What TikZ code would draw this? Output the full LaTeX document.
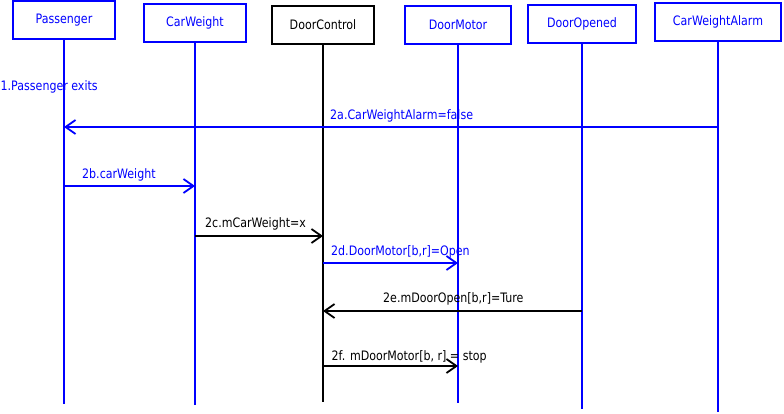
\documentclass[tikz,border=0pt]{standalone}
\usepackage{fontspec}
\setmainfont{DejaVu Sans}[FakeStretch=0.85]
\usetikzlibrary{arrows.meta}
\definecolor{lblue}{RGB}{0,0,255}
\begin{document}
\begin{tikzpicture}[x=1pt,y=-1pt,
  obj/.style={draw,line width=2pt,inner sep=0pt,font=\fontsize{13}{15}\selectfont},
  bobj/.style={obj,draw=lblue,text=lblue},
  kobj/.style={obj,draw=black,text=black},
  life/.style={line width=2pt},
  msg/.style={line width=2pt,-{Straight Barb[length=10pt,width=14pt,line width=1.8pt]}},
  lbl/.style={anchor=base west,inner sep=0pt,font=\fontsize{13}{15}\selectfont}]
\useasboundingbox (0,0) rectangle (784,414);
% objects
\node[bobj,minimum width=102pt,minimum height=38pt] (pas) at (64,20) {Passenger};
\node[bobj,minimum width=102pt,minimum height=38pt] (cw) at (195,23) {CarWeight};
\node[kobj,minimum width=102pt,minimum height=38pt] (dc) at (323,25) {DoorControl};
\node[bobj,minimum width=106pt,minimum height=38pt] (dm) at (458,25) {DoorMotor};
\node[bobj,minimum width=108pt,minimum height=38pt] (do) at (582,24) {DoorOpened};
\node[bobj,minimum width=126pt,minimum height=38pt] (cwa) at (718,22) {CarWeightAlarm};
% lifeline ends
\coordinate (pasE) at (64,404);
\coordinate (cwE) at (195,405);
\coordinate (dcE) at (323,402);
\coordinate (dmE) at (458,403);
\coordinate (doE) at (582,409);
\coordinate (cwaE) at (718,412);
\draw[life,lblue] (pas.south) -- (pasE);
\draw[life,lblue] (cw.south) -- (cwE);
\draw[life,black] (dc.south) -- (dcE);
\draw[life,lblue] (dm.south) -- (dmE);
\draw[life,lblue] (do.south) -- (doE);
\draw[life,lblue] (cwa.south) -- (cwaE);
% message points
\coordinate (a1) at (717,127);  \coordinate (a2) at (64,127);
\coordinate (b1) at (64,186);   \coordinate (b2) at (195,186);
\coordinate (c1) at (195,236);  \coordinate (c2) at (323,236);
\coordinate (d1) at (323,263);  \coordinate (d2) at (458,263);
\coordinate (e1) at (582,311);  \coordinate (e2) at (323,311);
\coordinate (f1) at (322,366);  \coordinate (f2) at (458,366);
% messages
\node[lbl,text=lblue] (m1) at (0.5,90.7) {1.Passenger exits};
\draw[msg,lblue] (a1) -- (a2);
\node[lbl,text=lblue] (m2a) at (330,119.5) {2a.CarWeightAlarm=false};
\draw[msg,lblue] (b1) -- (b2);
\node[lbl,text=lblue] (m2b) at (82,178.3) {2b.carWeight};
\draw[msg,black] (c1) -- (c2);
\node[lbl] (m2c) at (205,227.3) {2c.mCarWeight=x};
\draw[msg,lblue] (d1) -- (d2);
\node[lbl,text=lblue] (m2d) at (331,255) {2d.DoorMotor[b,r]=Open};
\draw[msg,black] (e1) -- (e2);
\node[lbl] (m2e) at (383,302) {2e.mDoorOpen[b,r]=Ture};
\draw[msg,black] (f1) -- (f2);
\node[lbl] (m2f) at (331.5,360) {2f. mDoorMotor[b, r] = stop};
\end{tikzpicture}
\end{document}
